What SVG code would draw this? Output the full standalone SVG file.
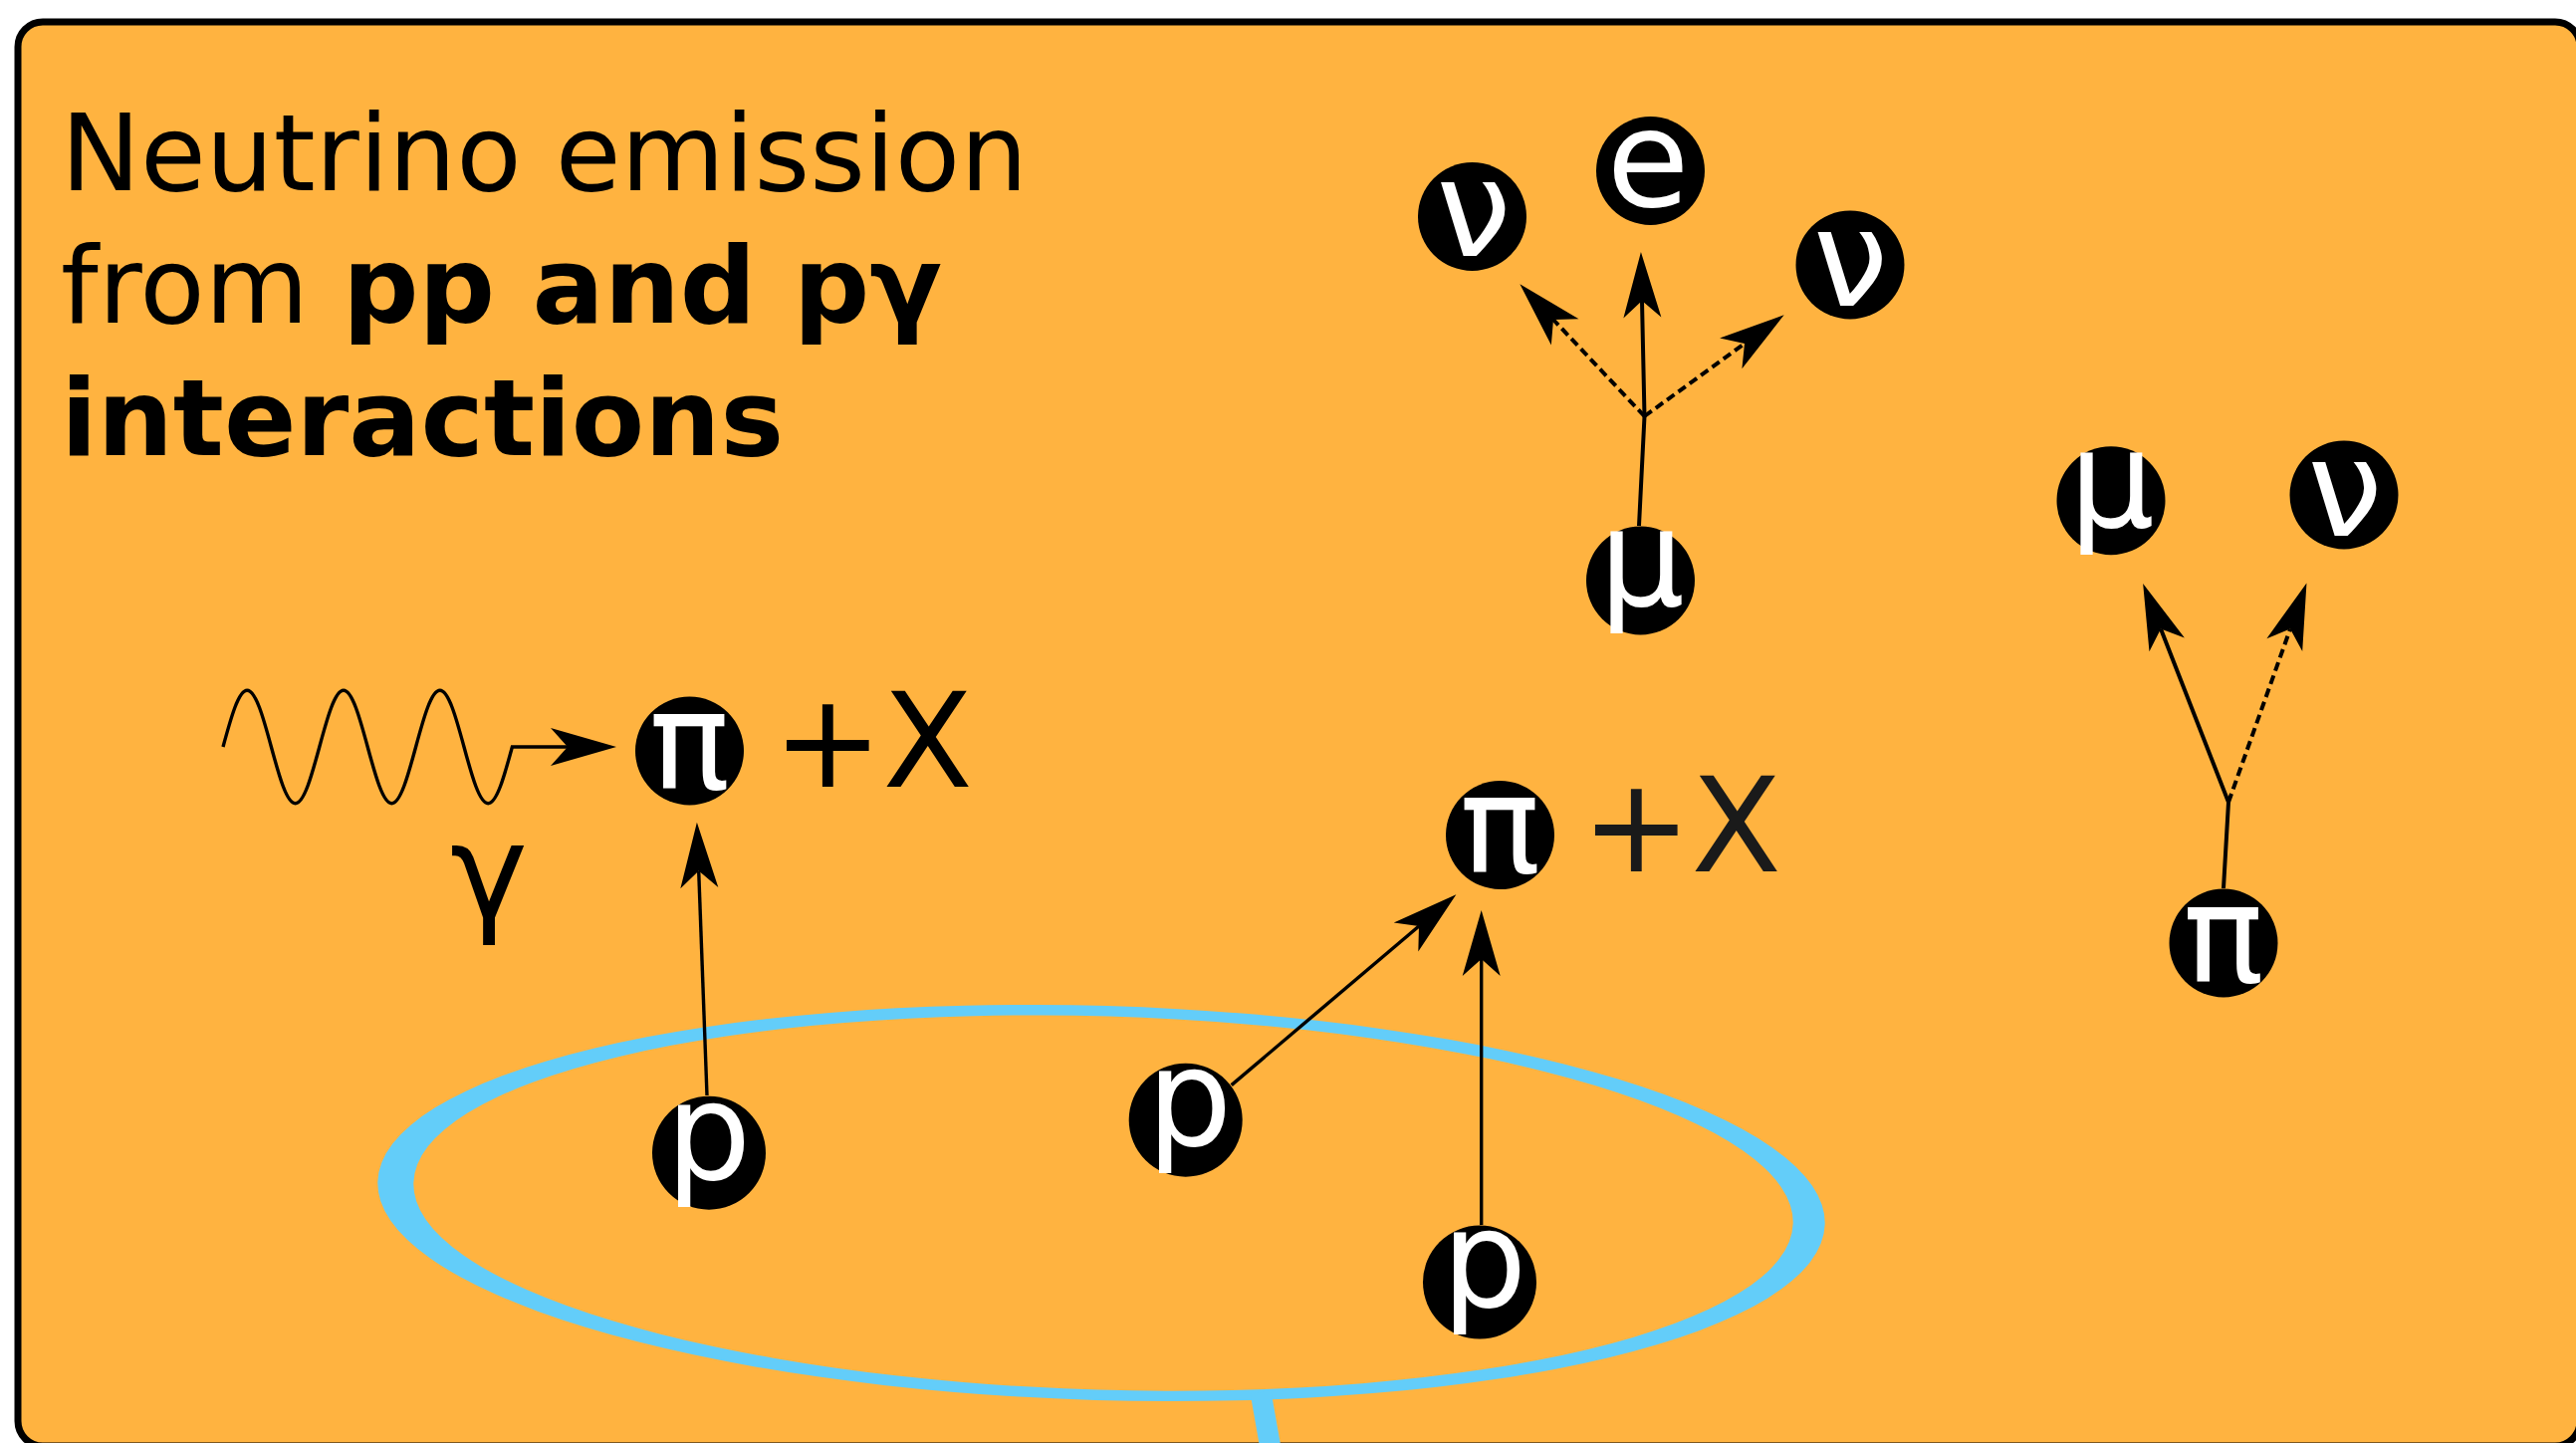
<svg xmlns="http://www.w3.org/2000/svg" width="2587" height="1449" viewBox="0 0 2587 1449">
<defs>
<style>
.bg{fill:#ffb340;stroke:#000;stroke-width:7}
.ring{fill:#63cdf9;fill-rule:evenodd}
.stem{stroke:#63cdf9;stroke-width:21;fill:none}
.title{font-family:"DejaVu Sans",sans-serif;font-size:107px;fill:#000}
.b{font-weight:bold}
.ln{fill:none;stroke:#000;stroke-width:4;marker-end:url(#arr)}
.seg{fill:none;stroke:#000;stroke-width:4}
.thin{stroke-width:3.4}
.dash{stroke-dasharray:9,5}
.node ellipse{fill:#000}
.node text{font-family:"DejaVu Sans",sans-serif;font-size:135px;fill:#fff;text-anchor:middle}
.lbl{font-family:"DejaVu Sans",sans-serif;font-size:132px;fill:#000}
</style>
<marker id="arr" markerUnits="userSpaceOnUse" orient="auto" overflow="visible" markerWidth="1" markerHeight="1" refX="0" refY="0">
<path d="M49,0 L-17,-19 L0,0 L-17,19 Z" fill="#000" stroke="none"/>
</marker>
</defs>

<rect class="bg" x="18" y="22" width="2573" height="1430" rx="25" ry="25"/>

<g id="ring">
<path class="ring" transform="rotate(1.7 1106 1208)" d="M379,1208 a727,198 0 1,0 1454,0 a727,198 0 1,0 -1454,0 Z M415,1208 a693,187.5 0 1,0 1386,0 a693,187.5 0 1,0 -1386,0 Z"/>
<line class="stem" x1="1266" y1="1398" x2="1277" y2="1460"/>
</g>

<g id="title">
<text class="title" x="61" y="191">Neutrino emission</text>
<text class="title" x="61" y="324">from <tspan class="b">pp and pγ</tspan></text>
<text class="title b" x="61" y="457">interactions</text>
</g>

<g id="connectors">
<path class="ln" d="M1646,528 L1651.5,418 L1649,302"/>
<path class="ln dash" d="M1651.5,418 L1560,321"/>
<path class="ln dash" d="M1651.5,418 L1752,345"/>
<path class="ln" d="M2233,892 L2238,805.5 L2170,631.6"/>
<path class="ln dash" d="M2238,805.5 L2300,631.6"/>
<path class="ln thin" d="M710,1100 L701.7,874.6"/>
<path class="ln thin" d="M1236.7,1089.6 L1425,930"/>
<path class="ln thin" d="M1487.7,1230 L1487.7,963"/>
<path id="photon" class="ln thin" d="M224,750 c7.88,-29.05 15.46,-56.7 24.2,-56.7 c8.74,0 16.32,27.65 24.2,56.7 c7.88,29.05 15.46,56.7 24.2,56.7 c8.74,0 16.32,-27.65 24.2,-56.7 c7.88,-29.05 15.46,-56.7 24.2,-56.7 c8.74,0 16.32,27.65 24.2,56.7 c7.88,29.05 15.46,56.7 24.2,56.7 c8.74,0 16.32,-27.65 24.2,-56.7 c7.88,-29.05 15.46,-56.7 24.2,-56.7 c8.74,0 16.32,27.65 24.2,56.7 c7.88,29.05 15.46,56.7 24.2,56.7 c8.74,0 16.32,-27.65 24.2,-56.7 L570,750"/>
</g>

<g id="nu1" class="node"><ellipse cx="1478.5" cy="217.5" rx="54.5" ry="54.5"/><text x="1480" y="257">ν</text></g>
<g id="e" class="node"><ellipse cx="1657.5" cy="171.5" rx="54.5" ry="54.5"/><text x="1655" y="206.5">e</text></g>
<g id="nu2" class="node"><ellipse cx="1858" cy="266" rx="54.5" ry="54.5"/><text x="1858.5" y="307">ν</text></g>
<g id="mu1" class="node"><ellipse cx="1647.5" cy="583" rx="54.5" ry="54.5"/><text x="1649" y="608">μ</text></g>

<g id="mu2" class="node"><ellipse cx="2120" cy="502.7" rx="54.5" ry="54.5"/><text x="2121" y="529">μ</text></g>
<g id="nu3" class="node"><ellipse cx="2354" cy="497" rx="54.5" ry="54.5"/><text x="2355" y="538">ν</text></g>
<g id="pi3" class="node"><ellipse cx="2233" cy="947" rx="54.5" ry="54.5"/><text x="2233" y="985">π</text></g>

<g id="pi1" class="node"><ellipse cx="692.5" cy="754" rx="54.5" ry="54.5"/><text x="692.5" y="791">π</text></g>
<g id="p1" class="node"><ellipse cx="712" cy="1157.7" rx="57" ry="57"/><text x="711.5" y="1184">p</text></g>

<g id="pi2" class="node"><ellipse cx="1506.5" cy="838.5" rx="54.5" ry="54.5"/><text x="1506.5" y="875">π</text></g>
<g id="p2" class="node"><ellipse cx="1190.7" cy="1124.7" rx="57" ry="57"/><text x="1194.5" y="1150">p</text></g>
<g id="p3" class="node"><ellipse cx="1486" cy="1287.6" rx="57" ry="57"/><text x="1490.5" y="1312">p</text></g>

<g id="labels">
<text class="lbl" x="491" y="922" text-anchor="middle">γ</text>
<text class="lbl" x="776" y="790">+X</text>
<text class="lbl" x="1588" y="875" style="fill:#1a1a1a">+X</text>
</g>
</svg>
